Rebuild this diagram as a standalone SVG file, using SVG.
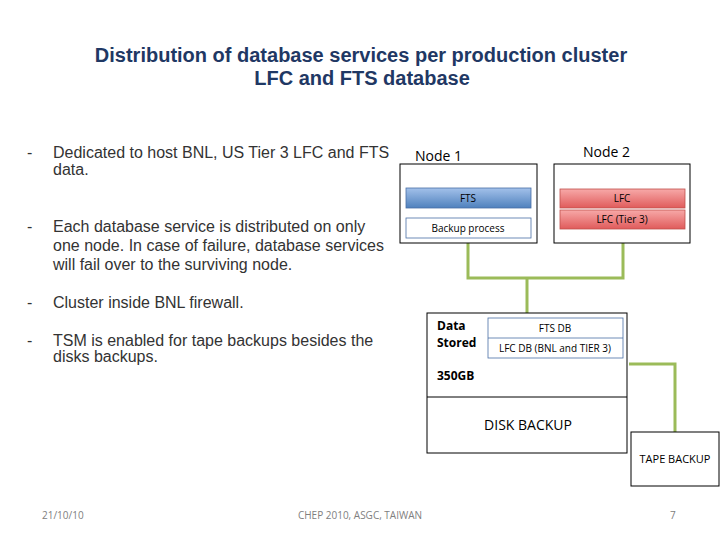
<svg xmlns="http://www.w3.org/2000/svg" width="720" height="540" viewBox="0 0 720 540">
<defs>
<linearGradient id="gBlue" x1="0" y1="0" x2="0" y2="1"><stop offset="0" stop-color="#A3C1EA"/><stop offset="1" stop-color="#4F81BD"/></linearGradient>
<linearGradient id="gRed" x1="0" y1="0" x2="0" y2="1"><stop offset="0" stop-color="#F7A9A8"/><stop offset="1" stop-color="#E05B5B"/></linearGradient>
</defs>
<style>
.title{font-family:"Liberation Sans",Arial,sans-serif;font-weight:bold;font-size:20px;fill:#1F3864;text-anchor:middle}
.bul{font-family:"Liberation Sans",Arial,sans-serif;font-size:16px;fill:#333333}
.box{fill:#ffffff;stroke:#000000;stroke-width:1}
.lbl{font-family:"Open Sans","Liberation Sans",sans-serif;font-size:10px;fill:#000000;text-anchor:middle}
.node{font-family:"Open Sans","Liberation Sans",sans-serif;font-size:14px;fill:#000000}
.bold{font-family:"Open Sans","Liberation Sans",sans-serif;font-size:12px;font-weight:bold;fill:#000000}
.foot{font-family:"Open Sans","Liberation Sans",sans-serif;font-size:10px;fill:#808080}
.conn{fill:none;stroke:#9BBB59;stroke-width:3}
</style>
<rect width="720" height="540" fill="#ffffff"/>
<text class="title" x="361" y="62">Distribution of database services per production cluster</text>
<text class="title" x="362" y="85">LFC and FTS database</text>
<g id="bullets">
<text class="bul" x="27" y="158">-</text>
<text class="bul" x="53" y="158">Dedicated to host BNL, US Tier 3 LFC and FTS</text>
<text class="bul" x="53" y="175">data.</text>
<text class="bul" x="27" y="232">-</text>
<text class="bul" x="53" y="232">Each database service is distributed on only</text>
<text class="bul" x="53" y="251">one node. In case of failure, database services</text>
<text class="bul" x="53" y="270">will fail over to the surviving node.</text>
<text class="bul" x="27" y="308">-</text>
<text class="bul" x="53" y="308">Cluster inside BNL firewall.</text>
<text class="bul" x="27" y="346">-</text>
<text class="bul" x="53" y="346">TSM is enabled for tape backups besides the</text>
<text class="bul" x="53" y="362">disks backups.</text>
</g>
<g id="connectors">
<polyline class="conn" points="468,243 468,278 623,278 623,243"/>
<line class="conn" x1="527" y1="278" x2="527" y2="313"/>
<polyline class="conn" points="629,364 675,364 675,432"/>
</g>
<g id="node1">
<rect class="box" x="400" y="164" width="137" height="79"/>
<text class="node" x="415" y="161" font-size="15">Node 1</text>
<rect x="406" y="188" width="125" height="20" fill="url(#gBlue)" stroke="#4A6FA5" stroke-width="0.8"/>
<text class="lbl" x="468" y="202">FTS</text>
<rect x="406" y="218" width="125" height="20" fill="#ffffff" stroke="#4A6FA5" stroke-width="0.8"/>
<text class="lbl" x="468" y="232">Backup process</text>
</g>
<g id="node2">
<rect class="box" x="554" y="164" width="136" height="79"/>
<text class="node" x="583" y="157" font-size="15">Node 2</text>
<rect x="560" y="189" width="125" height="19" fill="url(#gRed)" stroke="#C0504D" stroke-width="0.8"/>
<text class="lbl" x="622" y="202">LFC</text>
<rect x="560" y="210" width="125" height="19" fill="url(#gRed)" stroke="#C0504D" stroke-width="0.8"/>
<text class="lbl" x="622" y="223">LFC (Tier 3)</text>
</g>
<g id="storage">
<rect class="box" x="427" y="313" width="200" height="140"/>
<line x1="427" y1="397" x2="627" y2="397" stroke="#000000" stroke-width="1"/>
<text class="bold" x="437" y="330">Data</text>
<text class="bold" x="437" y="347">Stored</text>
<text class="bold" x="437" y="380">350GB</text>
<rect x="488" y="318" width="135" height="40" fill="#ffffff" stroke="#4A6FA5" stroke-width="0.8"/>
<line x1="488" y1="338" x2="623" y2="338" stroke="#4A6FA5" stroke-width="0.8"/>
<text class="lbl" x="555" y="332">FTS DB</text>
<text class="lbl" x="555" y="352">LFC DB (BNL and TIER 3)</text>
<text x="528" y="430" font-family="Open Sans, Liberation Sans, sans-serif" font-size="14" text-anchor="middle">DISK BACKUP</text>
</g>
<g id="tape">
<rect class="box" x="631" y="432" width="88" height="54"/>
<text x="675" y="463" font-family="Open Sans, Liberation Sans, sans-serif" font-size="11" text-anchor="middle">TAPE BACKUP</text>
</g>
<text class="foot" x="42" y="519">21/10/10</text>
<text class="foot" x="360" y="519" text-anchor="middle">CHEP 2010, ASGC, TAIWAN</text>
<text class="foot" x="670" y="519">7</text>
</svg>
